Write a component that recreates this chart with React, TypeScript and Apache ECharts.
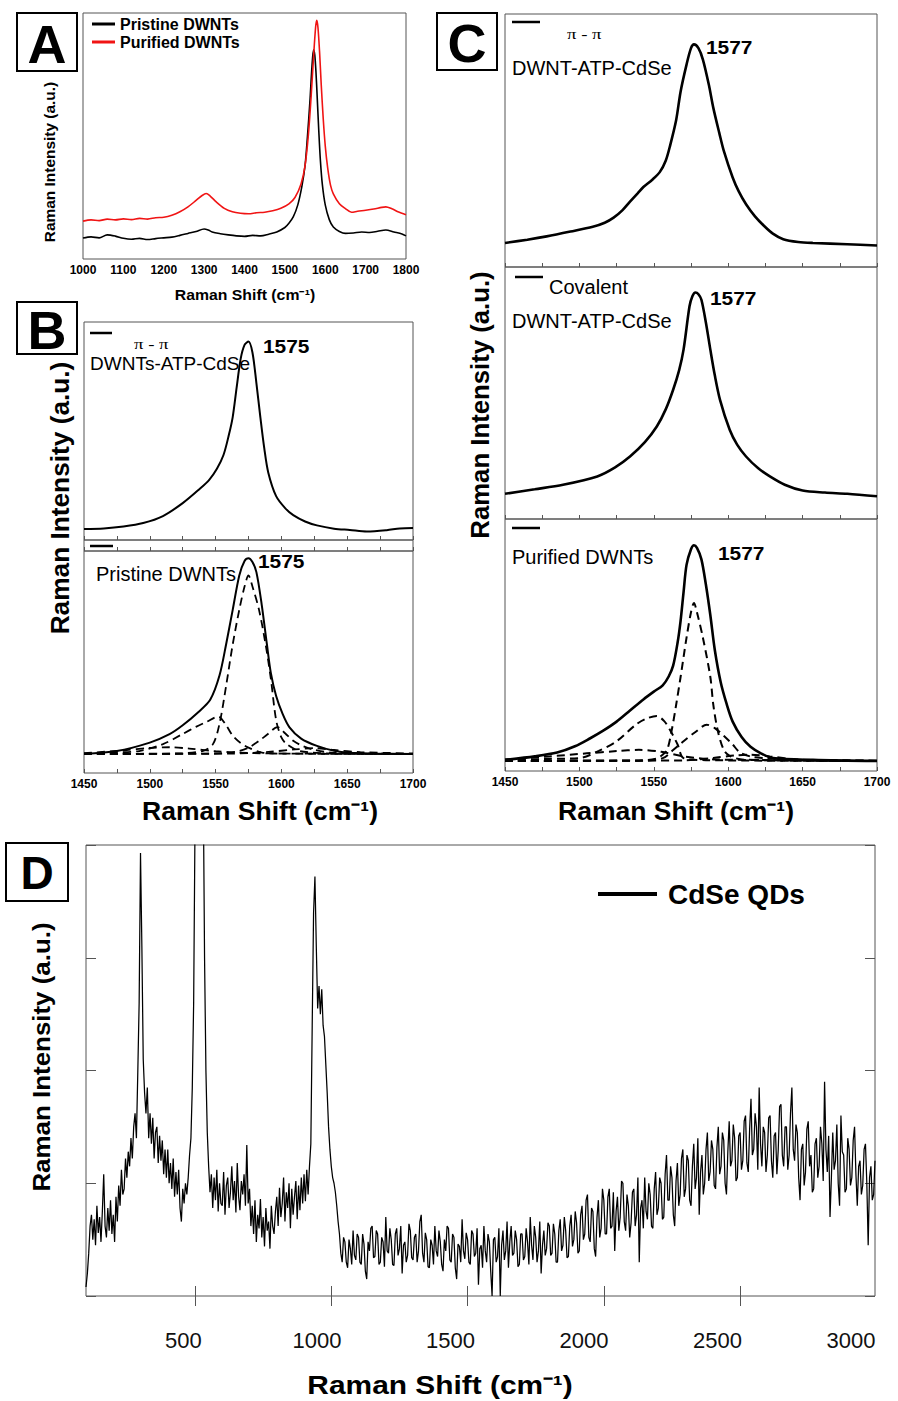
import React, { useEffect, useRef } from "react";
import * as echarts from "echarts";

type Pt = [number, number];

const FONT = "'Liberation Sans', Arial, Helvetica, sans-serif";
const SERIF = "'Liberation Serif', 'DejaVu Serif', serif";

// ---------- Panel A: Raman spectra 1000-1800 ----------
const aPristine: Pt[] = [
  [1000, 8.5], [1020, 9.0], [1040, 8.6], [1060, 9.8], [1080, 9.3], [1100, 8.4], [1120, 8.0], [1140, 8.4],
  [1160, 7.9], [1180, 8.3], [1200, 8.6], [1220, 8.9], [1240, 9.6], [1260, 10.4], [1280, 11.2], [1300, 12.2],
  [1310, 11.8], [1320, 11.0], [1340, 10.3], [1360, 9.8], [1380, 9.4], [1400, 9.2], [1420, 9.6], [1440, 9.4],
  [1460, 10.1], [1480, 11.0], [1500, 12.8], [1510, 14.5], [1521, 17.2], [1532, 22], [1542, 29.4], [1550, 38],
  [1556, 50], [1562, 64], [1567, 78], [1571, 85], [1574, 83], [1577, 76], [1580, 66], [1584, 52], [1588, 40],
  [1593, 30], [1600, 22], [1610, 16], [1620, 13], [1635, 11.2], [1650, 10.4], [1670, 10.6], [1690, 11.0],
  [1710, 10.8], [1730, 11.3], [1750, 11.8], [1770, 11.0], [1790, 10.2], [1800, 9.4],
];
const aPurified: Pt[] = [
  [1000, 15.4], [1020, 15.9], [1040, 15.6], [1060, 16.2], [1080, 15.9], [1100, 16.3], [1120, 16.0], [1140, 16.5],
  [1160, 16.2], [1180, 16.8], [1200, 17.0], [1220, 17.8], [1240, 19.2], [1260, 21.2], [1280, 23.8], [1295, 25.8],
  [1305, 26.6], [1315, 25.6], [1330, 23.2], [1350, 20.6], [1370, 19.2], [1390, 18.6], [1410, 18.4], [1430, 18.8],
  [1450, 19.0], [1470, 19.6], [1490, 20.6], [1510, 22.4], [1525, 25.0], [1540, 30.5], [1550, 38], [1558, 50],
  [1565, 66], [1571, 82], [1576, 94], [1579, 97], [1582, 94], [1586, 84], [1590, 71], [1595, 57], [1600, 46],
  [1606, 37], [1613, 30], [1620, 26.5], [1635, 22.5], [1650, 20.5], [1665, 19.0], [1680, 19.4], [1700, 19.8],
  [1720, 20.3], [1740, 21.0], [1750, 21.2], [1765, 20.4], [1780, 19.2], [1800, 18.0],
];

// ---------- Panel B: G band 1450-1700 ----------
const bPiPi: Pt[] = [
  [1450, 5.0], [1465, 5.3], [1480, 6.2], [1495, 7.8], [1510, 11.0], [1525, 16.9], [1538, 23.5], [1545, 27.5],
  [1551, 32.7], [1556, 39], [1560, 48], [1563, 56.4], [1566, 70], [1569, 83], [1572, 89.5], [1575, 91],
  [1578, 86], [1581, 72], [1584, 56.4], [1587, 42], [1590, 31], [1596, 20.1], [1603, 14.5], [1609, 11.4],
  [1618, 8.5], [1627, 6.7], [1640, 5.2], [1652, 4.6], [1665, 3.9], [1680, 4.5], [1690, 5.3], [1700, 5.5],
];
const bPristine: Pt[] = [
  [1450, 8.6], [1475, 9.9], [1500, 13.7], [1515, 17.5], [1525, 21.5], [1537, 27.5], [1546, 33.1], [1553, 44.0],
  [1558, 58], [1563, 73.5], [1568, 89.0], [1572, 95.5], [1575, 96.7], [1578, 95], [1581, 90.5], [1585, 76],
  [1589, 57.9], [1592, 45], [1596, 34.7], [1601, 26.5], [1606, 20.7], [1615, 15.5], [1627, 12.2], [1640, 10.0],
  [1652, 9.1], [1670, 8.8], [1700, 8.6],
];
const bFitMain: Pt[] = [
  [1450, 8.6], [1520, 8.8], [1540, 9.9], [1548, 13.0], [1553, 22.3], [1558, 39.3], [1563, 57.9], [1568, 73.5],
  [1572, 84], [1575, 89.0], [1578, 84], [1583, 73.5], [1588, 57.9], [1592, 42.4], [1596, 23.8], [1600, 16],
  [1604, 13.0], [1614, 9.9], [1640, 8.8], [1700, 8.6],
];
const bFitLeft: Pt[] = [
  [1450, 8.7], [1475, 9.3], [1492, 9.9], [1510, 13], [1525, 17.6], [1535, 20.8], [1543, 23.0], [1552, 25.4],
  [1558, 21.5], [1563, 16.8], [1569, 13.5], [1575, 11.4], [1586, 9.1], [1610, 8.7], [1700, 8.6],
];
const bFitRight: Pt[] = [
  [1450, 8.6], [1550, 8.8], [1565, 9.5], [1575, 11.4], [1583, 14.5], [1589, 17.2], [1597, 20.7], [1603, 17.8],
  [1609, 14.5], [1616, 12.2], [1624, 10.6], [1639, 9.1], [1700, 8.6],
];
const bFitLow1: Pt[] = [
  [1450, 8.9], [1480, 10.2], [1500, 11.3], [1515, 11.6], [1530, 11.0], [1550, 9.8], [1575, 9.0], [1620, 8.7], [1700, 8.6],
];
const bFitLow2: Pt[] = [
  [1450, 8.6], [1560, 8.7], [1590, 9.5], [1610, 10.6], [1625, 11.2], [1640, 10.4], [1660, 9.4], [1700, 8.8],
];

// ---------- Panel C: G band 1450-1700 ----------
const cPiPi: Pt[] = [
  [1450, 9.5], [1465, 10.8], [1478, 12.1], [1494, 14.0], [1509, 15.9], [1517, 17.5], [1523, 19.5], [1529, 22.5],
  [1534, 25.8], [1539, 29], [1543, 31.6], [1549, 34.5], [1554, 37.5], [1558, 42], [1561, 48.1], [1565, 58],
  [1568, 69.3], [1572, 80], [1575, 86.5], [1577, 88], [1580, 86.5], [1583, 82.0], [1587, 72], [1590, 62.9],
  [1594, 53], [1597, 46.0], [1603, 35.4], [1607, 30], [1612, 24.8], [1618, 20], [1624, 16.3], [1630, 13.2],
  [1637, 11.0], [1647, 9.9], [1657, 9.5], [1680, 9.0], [1700, 8.5],
];
const cCovalent: Pt[] = [
  [1450, 10.0], [1470, 11.8], [1489, 13.6], [1512, 16.9], [1524, 20.5], [1534, 24.8], [1544, 30.5], [1552, 36.7],
  [1558, 43.5], [1563, 51.3], [1567, 59], [1570, 67.2], [1574, 84.4], [1576, 88.5], [1578, 89.9], [1580, 89.2],
  [1582, 87.0], [1585, 78], [1588, 67.2], [1591, 57], [1594.5, 47.3], [1601, 35.4], [1606, 29.5], [1612, 24.8],
  [1620, 20.2], [1628, 16.9], [1638, 13.6], [1650, 11.3], [1665, 10.5], [1680, 10.0], [1700, 9.0],
];
const cPurified: Pt[] = [
  [1450, 4.4], [1470, 5.8], [1485, 7.3], [1497, 9.8], [1507, 12.9], [1516, 16], [1525, 19.6], [1534, 24],
  [1543, 28.4], [1550, 31.5], [1556, 34.0], [1560, 37.5], [1563, 41.8], [1566, 51], [1568, 59.6], [1570, 71],
  [1572, 81.8], [1575, 88], [1577, 89.6], [1579, 88.5], [1582, 84.0], [1585, 74], [1588, 61.8], [1591, 48],
  [1595, 35.1], [1599, 26.5], [1603, 19.6], [1609, 13.5], [1615, 9.6], [1622, 7], [1630, 5.1], [1657, 4.4], [1700, 4.0],
];
const cFitMain: Pt[] = [
  [1450, 4.0], [1540, 4.1], [1552, 5.0], [1556, 6.5], [1559, 8.4], [1562, 16], [1565, 26.2], [1568, 37.3],
  [1572, 52.9], [1575, 63], [1577, 66.7], [1579, 63], [1583, 52.9], [1588, 37.3], [1590, 26.2], [1593, 16],
  [1597, 8.4], [1601, 6.0], [1610, 4.5], [1700, 4.0],
];
const cFitLeft: Pt[] = [
  [1450, 4.2], [1480, 4.8], [1500, 5.1], [1513, 8], [1525, 11.8], [1538, 18.4], [1545, 20.8], [1552, 21.8],
  [1557, 19.8], [1561, 16.2], [1566, 10.5], [1570, 5.1], [1585, 4.3], [1700, 4.0],
];
const cFitRight: Pt[] = [
  [1450, 4.0], [1540, 4.2], [1556, 5.1], [1563, 8.3], [1570, 11.8], [1578, 15.5], [1585.6, 18.4], [1591, 17],
  [1597, 14.0], [1603, 10.5], [1608, 7.3], [1616, 5.6], [1624, 5.1], [1650, 4.2], [1700, 4.0],
];
const cFitLow1: Pt[] = [
  [1450, 4.6], [1480, 5.8], [1505, 7.0], [1525, 7.9], [1540, 8.4], [1555, 7.6], [1570, 5.8], [1590, 4.6], [1700, 4.0],
];
const cFitLow2: Pt[] = [
  [1450, 4.0], [1570, 4.2], [1590, 5.2], [1605, 6.2], [1615, 6.5], [1628, 5.8], [1645, 4.6], [1700, 4.1],
];

// ---------- Panel D: CdSe QDs, sampled every 5 cm-1 from 100 cm-1 (20 values per row) ----------
const dShiftStart = 100;
const dShiftStep = 5;
const dCdSe: number[] = [
  0.08, 0.20, 0.38, 0.62, 0.72, 0.50, 0.68, 0.45, 0.80, 0.56, 0.70, 0.48, 0.75, 1.08, 0.62, 0.52, 0.78, 0.58, 0.85, 0.55, // 100
  0.72, 0.48, 0.88, 0.66, 0.98, 0.80, 1.12, 0.90, 0.95, 1.22, 1.05, 1.28, 1.15, 1.40, 1.22, 1.50, 1.62, 1.40, 1.98, 2.60, // 200
  3.93, 3.10, 2.10, 1.80, 1.62, 1.85, 1.40, 1.62, 1.35, 1.58, 1.22, 1.45, 1.50, 1.18, 1.42, 1.20, 1.38, 1.08, 1.30, 1.05, // 300
  1.30, 1.00, 1.18, 0.95, 1.22, 0.88, 1.10, 0.90, 1.12, 0.78, 0.66, 0.95, 0.82, 1.00, 0.90, 1.05, 1.25, 1.40, 1.85, 2.60, // 400
  4.20, 5.20, 6.00, 6.00, 6.00, 6.00, 4.60, 3.00, 2.00, 1.45, 1.15, 0.92, 1.08, 0.78, 1.05, 0.85, 1.12, 0.75, 1.00, 0.82, // 500
  0.80, 1.10, 0.72, 0.98, 1.05, 0.78, 0.92, 1.15, 0.85, 1.02, 0.74, 1.18, 0.88, 0.76, 1.02, 0.90, 1.08, 0.80, 1.34, 0.82, // 600
  0.95, 0.62, 0.80, 0.55, 0.85, 0.48, 0.72, 0.60, 0.86, 0.52, 0.70, 0.44, 0.78, 0.58, 0.66, 0.42, 0.80, 0.62, 0.55, 0.75, // 700
  0.88, 0.62, 0.96, 0.70, 0.82, 1.05, 0.66, 0.92, 0.78, 1.00, 0.60, 0.95, 0.72, 0.88, 1.02, 0.68, 0.98, 0.76, 1.05, 0.82, // 800
  1.08, 0.84, 1.12, 0.90, 1.15, 1.35, 2.40, 3.40, 3.72, 3.10, 2.55, 2.75, 2.50, 2.72, 2.40, 2.30, 2.05, 1.80, 1.50, 1.30, // 900
  1.15, 1.05, 1.00, 0.92, 0.80, 0.66, 0.55, 0.38, 0.30, 0.52, 0.48, 0.30, 0.25, 0.50, 0.42, 0.28, 0.58, 0.36, 0.32, 0.55, // 1000
  0.52, 0.30, 0.28, 0.55, 0.46, 0.22, 0.15, 0.48, 0.40, 0.60, 0.62, 0.34, 0.35, 0.58, 0.55, 0.28, 0.30, 0.52, 0.48, 0.26, // 1100
  0.70, 0.40, 0.38, 0.60, 0.50, 0.28, 0.27, 0.55, 0.60, 0.36, 0.42, 0.62, 0.20, 0.45, 0.48, 0.30, 0.36, 0.64, 0.58, 0.34, // 1200
  0.32, 0.52, 0.55, 0.30, 0.40, 0.66, 0.72, 0.38, 0.30, 0.56, 0.50, 0.26, 0.25, 0.50, 0.45, 0.28, 0.62, 0.40, 0.35, 0.58, // 1300
  0.48, 0.28, 0.22, 0.50, 0.40, 0.62, 0.60, 0.32, 0.30, 0.55, 0.52, 0.25, 0.15, 0.46, 0.44, 0.30, 0.68, 0.40, 0.33, 0.56, // 1400
  0.50, 0.30, 0.28, 0.58, 0.55, 0.35, 0.38, 0.60, 0.10, 0.42, 0.45, 0.25, 0.62, 0.40, 0.30, 0.55, 0.48, 0.22, 0.00, 0.50, // 1500
  0.52, 0.30, 0.35, 0.60, 0.00, 0.45, 0.58, 0.32, 0.40, 0.66, 0.25, 0.48, 0.62, 0.36, 0.38, 0.58, 0.50, 0.26, 0.28, 0.55, // 1600
  0.55, 0.32, 0.35, 0.60, 0.48, 0.28, 0.70, 0.45, 0.32, 0.62, 0.52, 0.30, 0.40, 0.66, 0.20, 0.45, 0.58, 0.36, 0.42, 0.65, // 1700
  0.62, 0.36, 0.38, 0.64, 0.55, 0.30, 0.30, 0.58, 0.68, 0.40, 0.45, 0.70, 0.58, 0.34, 0.35, 0.62, 0.72, 0.44, 0.50, 0.75, // 1800
  0.65, 0.38, 0.40, 0.72, 0.80, 0.50, 0.55, 0.85, 0.90, 0.52, 0.48, 0.78, 0.75, 0.42, 0.35, 0.70, 0.85, 0.52, 0.60, 0.95, // 1900
  0.85, 0.55, 0.55, 0.88, 0.95, 0.60, 0.62, 0.92, 0.40, 0.75, 0.88, 0.58, 0.70, 1.02, 1.00, 0.66, 0.58, 0.90, 0.80, 0.52, // 2000
  0.65, 0.92, 0.95, 0.62, 0.72, 1.05, 0.30, 0.78, 0.85, 0.60, 1.05, 0.75, 0.68, 1.00, 0.90, 0.62, 0.60, 0.95, 1.10, 0.72, // 2100
  0.78, 1.05, 1.00, 0.68, 0.70, 1.08, 1.25, 0.85, 0.85, 1.15, 1.05, 0.72, 0.62, 1.02, 1.18, 0.80, 0.90, 1.22, 1.30, 0.88, // 2200
  0.95, 1.25, 1.20, 0.85, 0.80, 1.15, 1.35, 0.95, 1.05, 1.40, 0.72, 1.10, 1.25, 0.90, 1.00, 1.30, 1.45, 1.02, 1.10, 1.38, // 2300
  1.30, 0.98, 0.95, 1.32, 1.50, 1.08, 1.15, 1.45, 1.38, 1.00, 0.90, 1.28, 1.55, 1.15, 1.20, 1.52, 1.40, 1.02, 1.05, 1.42, // 2400
  1.45, 1.12, 1.20, 1.55, 1.60, 1.18, 1.10, 1.48, 1.75, 1.25, 1.30, 1.62, 1.50, 1.12, 1.85, 1.35, 1.15, 1.50, 1.45, 1.10, // 2500
  1.25, 1.58, 1.60, 1.20, 1.05, 1.42, 1.45, 1.08, 1.30, 1.68, 1.70, 1.25, 1.15, 1.50, 1.50, 1.12, 1.25, 1.62, 1.85, 1.30, // 2600
  1.20, 1.52, 1.45, 1.05, 0.85, 1.30, 1.35, 0.98, 1.10, 1.48, 1.55, 1.15, 1.25, 0.92, 0.95, 1.35, 1.40, 1.05, 1.15, 1.50, // 2700
  1.35, 1.02, 1.90, 1.30, 1.10, 1.42, 0.70, 1.05, 1.45, 1.12, 1.20, 1.52, 1.00, 0.80, 1.60, 1.28, 1.25, 0.92, 0.95, 1.40, // 2800
  1.30, 0.98, 1.05, 1.38, 1.50, 1.08, 0.80, 1.15, 1.20, 0.90, 0.98, 1.30, 1.35, 1.00, 0.45, 1.05, 1.15, 0.85, 0.90, 1.20, // 2900
];
const dTickValues = [500, 1000, 1500, 2000, 2500];
const dLabelValues = [500, 1000, 1500, 2000, 2500, 3000];

const BORDER = "#555";
const plain = (v: number) => String(v);

function line(name: string, data: Pt[], idx: number, color: string, width: number, dashed = false, smooth: number | boolean = 0.3) {
  return {
    type: "line",
    name,
    data,
    xAxisIndex: idx,
    yAxisIndex: idx,
    symbol: "none",
    showSymbol: false,
    smooth,
    clip: true,
    lineStyle: { color, width, type: dashed ? [8, 5] : "solid" },
    itemStyle: { color },
    z: dashed ? 2 : 3,
    silent: true,
    animation: false,
  };
}

function txt(text: string, x: number, y: number, size: number, o: any = {}) {
  return {
    type: "text",
    x,
    y,
    z: 100,
    rotation: o.rot ?? 0,
    scaleX: o.sx ?? 1,
    style: {
      text,
      fontSize: size,
      fontFamily: o.family ?? FONT,
      fontWeight: o.bold ? "bold" : "normal",
      fill: "#000",
      align: o.align ?? "left",
      verticalAlign: "middle",
      textAlign: o.align ?? "left",
      textVerticalAlign: "middle",
    },
  };
}

function seg(x1: number, y1: number, x2: number, y2: number, w = 2.5) {
  return { type: "line", z: 100, shape: { x1, y1, x2, y2 }, style: { stroke: "#000", lineWidth: w } };
}

function box(x: number, y: number, w: number, h: number) {
  return { type: "rect", z: 99, shape: { x, y, width: w, height: h }, style: { fill: "#fff", stroke: "#000", lineWidth: 2 } };
}

const tickLabel = { fontFamily: FONT, fontWeight: "bold", fontSize: 12, color: "#000", margin: 5, formatter: plain };

function gShiftAxis(gridIndex: number, labels: boolean) {
  return {
    type: "value",
    gridIndex,
    min: 1450,
    max: 1700,
    interval: 50,
    axisLine: { show: false },
    axisTick: { show: true, inside: true, length: 4, lineStyle: { color: BORDER } },
    minorTick: { show: true, splitNumber: 2, length: 4, lineStyle: { color: BORDER } },
    splitLine: { show: false },
    minorSplitLine: { show: false },
    axisLabel: labels ? tickLabel : { show: false },
  };
}

function hiddenY(gridIndex: number, max = 100) {
  return {
    type: "value",
    gridIndex,
    min: 0,
    max,
    axisLine: { show: false },
    axisTick: { show: false },
    axisLabel: { show: false },
    splitLine: { show: false },
  };
}

export default function App() {
  const ref = useRef<HTMLDivElement>(null);
  useEffect(() => {
    document.body.style.margin = "0";
    if (!ref.current) return;
    const chart = echarts.init(ref.current, undefined, { renderer: "svg" });
    const grids = [
      { left: 83, top: 13, width: 323, height: 246 },
      { left: 84, top: 322, width: 329, height: 218 },
      { left: 84, top: 540, width: 329, height: 11 },
      { left: 84, top: 551, width: 329, height: 222 },
      { left: 505, top: 14, width: 372, height: 253 },
      { left: 505, top: 267, width: 372, height: 252 },
      { left: 505, top: 519, width: 372, height: 252 },
      { left: 86, top: 845, width: 789, height: 451 },
    ].map((g) => ({ ...g, show: true, borderColor: BORDER, borderWidth: 1, containLabel: false, outerBoundsMode: "none" }));

    const dData: Pt[] = dCdSe.map((v, i) => [dShiftStart + i * dShiftStep, v]);

    const option: any = {
      animation: false,
      backgroundColor: "#fff",
      grid: grids,
      xAxis: [
        {
          type: "value", gridIndex: 0, min: 1000, max: 1800, interval: 100,
          axisLine: { show: false }, axisTick: { show: false }, splitLine: { show: false },
          axisLabel: tickLabel,
        },
        gShiftAxis(1, false),
        { ...gShiftAxis(2, false), position: "bottom" },
        gShiftAxis(3, true),
        gShiftAxis(4, false),
        gShiftAxis(5, false),
        gShiftAxis(6, true),
        {
          type: "value", gridIndex: 7, min: 100, max: 2995, position: "bottom",
          axisLine: { show: false },
          axisTick: { show: true, inside: true, length: 10, customValues: dTickValues, lineStyle: { color: BORDER } },
          axisLabel: { show: false }, splitLine: { show: false },
        },
        {
          type: "value", gridIndex: 7, min: 100, max: 2995, position: "top",
          axisLine: { show: false },
          axisTick: { show: true, inside: true, length: 10, customValues: dTickValues, lineStyle: { color: BORDER } },
          axisLabel: { show: false }, splitLine: { show: false },
        },
        {
          type: "value", gridIndex: 7, min: 135, max: 3090, position: "bottom",
          axisLine: { show: false }, axisTick: { show: false }, splitLine: { show: false },
          axisLabel: { customValues: dLabelValues, fontFamily: FONT, fontSize: 22, color: "#111", margin: 33, formatter: plain },
        },
      ],
      yAxis: [
        hiddenY(0), hiddenY(1), hiddenY(2, 1), hiddenY(3), hiddenY(4), hiddenY(5), hiddenY(6),
        {
          type: "value", gridIndex: 7, min: 0, max: 4, interval: 1, position: "left",
          axisLine: { show: false }, axisLabel: { show: false }, splitLine: { show: false },
          axisTick: { show: true, inside: true, length: 10, lineStyle: { color: BORDER } },
        },
        {
          type: "value", gridIndex: 7, min: 0, max: 4, interval: 1, position: "right",
          axisLine: { show: false }, axisLabel: { show: false }, splitLine: { show: false },
          axisTick: { show: true, inside: true, length: 10, lineStyle: { color: BORDER } },
        },
      ],
      legend: [
        {
          data: ["Pristine DWNTs", "Purified DWNTs"],
          left: 92, top: 16, orient: "vertical", icon: "rect", itemWidth: 23, itemHeight: 3, itemGap: 2, padding: 0,
          textStyle: { fontFamily: FONT, fontWeight: "bold", fontSize: 16, color: "#000" },
        },
        {
          data: ["CdSe QDs"],
          left: 598, top: 880, icon: "rect", itemWidth: 59, itemHeight: 4, padding: 0,
          textStyle: { fontFamily: FONT, fontWeight: "bold", fontSize: 28, color: "#000", padding: [0, 0, 0, 6] },
        },
      ],
      series: [
        line("Pristine DWNTs", aPristine, 0, "#000", 1.6),
        line("Purified DWNTs", aPurified, 0, "#f01414", 1.6),
        line("π-π DWNTs-ATP-CdSe", bPiPi, 1, "#000", 2),
        line("Pristine DWNTs (G band)", bPristine, 3, "#000", 2),
        line("B fit 1", bFitMain, 3, "#000", 1.8, true),
        line("B fit 2", bFitLeft, 3, "#000", 1.8, true),
        line("B fit 3", bFitRight, 3, "#000", 1.8, true),
        line("B fit 4", bFitLow1, 3, "#000", 1.8, true),
        line("B fit 5", bFitLow2, 3, "#000", 1.8, true),
        line("π-π DWNT-ATP-CdSe", cPiPi, 4, "#000", 2.6),
        line("Covalent DWNT-ATP-CdSe", cCovalent, 5, "#000", 2.6),
        line("Purified DWNTs (G band)", cPurified, 6, "#000", 2.6),
        line("C fit 1", cFitMain, 6, "#000", 2, true),
        line("C fit 2", cFitLeft, 6, "#000", 2, true),
        line("C fit 3", cFitRight, 6, "#000", 2, true),
        line("C fit 4", cFitLow1, 6, "#000", 2, true),
        line("C fit 5", cFitLow2, 6, "#000", 2, true),
        line("CdSe QDs", dData, 7, "#000", 1.25, false, false),
      ],
      graphic: {
        elements: [
          // Panel A
          box(17, 13, 60, 58),
          txt("A", 47, 44, 54, { bold: true, align: "center" }),
          txt("Raman Intensity (a.u.)", 50, 162, 15, { bold: true, align: "center", rot: Math.PI / 2, sx: 1.03 }),
          txt("Raman Shift (cm⁻¹)", 245, 295, 14, { bold: true, align: "center", sx: 1.13 }),
          // Panel B
          box(17, 302, 60, 52),
          txt("B", 47, 330, 54, { bold: true, align: "center" }),
          txt("Raman Intensity (a.u.)", 60, 498, 25, { bold: true, align: "center", rot: Math.PI / 2, sx: 1.05 }),
          seg(90, 333, 112, 333),
          txt("π - π", 134, 344, 15, { family: SERIF, sx: 1.25 }),
          txt("DWNTs-ATP-CdSe", 90, 363, 19),
          txt("1575", 263, 346, 19, { bold: true, sx: 1.1 }),
          seg(90, 546, 113, 546),
          txt("Pristine DWNTs", 96, 574, 20),
          txt("1575", 258, 561, 19, { bold: true, sx: 1.1 }),
          txt("Raman Shift (cm⁻¹)", 260, 811, 26, { bold: true, align: "center", sx: 1.02 }),
          // Panel C
          box(437, 13, 60, 57),
          txt("C", 467, 43, 54, { bold: true, align: "center" }),
          txt("Raman Intensity (a.u.)", 480, 405, 25, { bold: true, align: "center", rot: Math.PI / 2, sx: 1.03 }),
          seg(512, 22, 540, 22),
          txt("π - π", 567, 34, 15, { family: SERIF, sx: 1.25 }),
          txt("DWNT-ATP-CdSe", 512, 68, 20),
          txt("1577", 706, 47, 19, { bold: true, sx: 1.1 }),
          seg(515, 277, 543, 277),
          txt("Covalent", 549, 287, 20),
          txt("DWNT-ATP-CdSe", 512, 321, 20),
          txt("1577", 710, 298, 19, { bold: true, sx: 1.1 }),
          seg(512, 528, 540, 528),
          txt("Purified DWNTs", 512, 557, 20),
          txt("1577", 718, 553, 19, { bold: true, sx: 1.1 }),
          txt("Raman Shift (cm⁻¹)", 676, 811, 26, { bold: true, align: "center", sx: 1.02 }),
          // Panel D
          box(6, 843, 62, 58),
          txt("D", 37, 873, 46, { bold: true, align: "center" }),
          txt("Raman Intensity (a.u.)", 41, 1057, 24, { bold: true, align: "center", rot: Math.PI / 2, sx: 1.08 }),
          txt("Raman Shift (cm⁻¹)", 440, 1385, 26, { bold: true, align: "center", sx: 1.15 }),
        ],
      },
    };
    chart.setOption(option);
    return () => chart.dispose();
  }, []);
  return (
    <div
      ref={ref}
      style={{ position: "absolute", left: 0, top: 0, width: 898, height: 1401, background: "#fff" }}
    />
  );
}
